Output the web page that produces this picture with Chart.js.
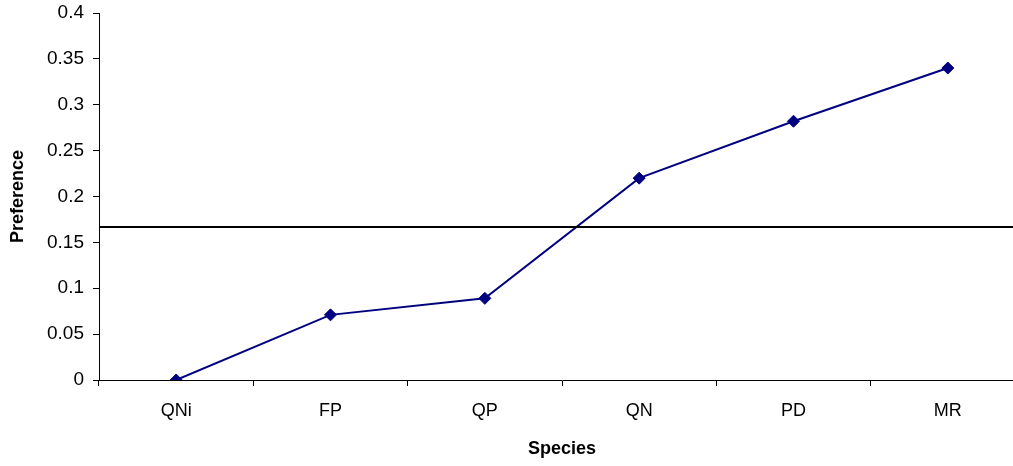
<!DOCTYPE html>
<html>
<head>
<meta charset="utf-8">
<script src="https://cdn.jsdelivr.net/npm/chart.js@4"></script>
<style>
html,body{margin:0;padding:0;background:#fff;overflow:hidden;}
#wrap{position:relative;width:1033px;height:466px;}
</style>
</head>
<body>
<div id="wrap"><canvas id="c" width="1033" height="466"></canvas></div>
<script>
const categories = ['QNi', 'FP', 'QP', 'QN', 'PD', 'MR'];
const preference = [0, 0.071, 0.089, 0.22, 0.282, 0.34];
const referenceLevel = [1 / 6];
const yTickValues = [0, 0.05, 0.1, 0.15, 0.2, 0.25, 0.3, 0.35, 0.4];
const xTitle = 'Species';
const yTitle = 'Preference';

const refLinePlugin = {
  id: 'refLine',
  afterDatasetsDraw(chart) {
    const {ctx, chartArea, scales} = chart;
    referenceLevel.forEach(v => {
      const y = scales.y.getPixelForValue(v);
      ctx.save();
      ctx.strokeStyle = '#000';
      ctx.lineWidth = 2;
      ctx.beginPath();
      ctx.moveTo(chartArea.left, y);
      ctx.lineTo(chartArea.right, y);
      ctx.stroke();
      ctx.restore();
    });
  }
};

const FONT = 'Liberation Sans, Arial, sans-serif';

new Chart(document.getElementById('c'), {
  type: 'line',
  data: {
    labels: categories,
    datasets: [{
      data: preference,
      borderColor: '#000080',
      backgroundColor: '#000080',
      borderWidth: 2,
      pointStyle: 'rectRot',
      pointRadius: 6,
      pointHoverRadius: 6,
      pointBorderWidth: 1,
      tension: 0,
      fill: false
    }]
  },
  options: {
    responsive: false,
    animation: false,
    layout: {padding: {top: 13, right: 8, bottom: 0, left: 0}},
    plugins: {legend: {display: false}, tooltip: {enabled: false}},
    scales: {
      x: {
        type: 'category',
        offset: true,
        grid: {offset: true, drawOnChartArea: false, drawTicks: true, tickLength: 6, color: '#000', lineWidth: 1},
        border: {display: true, color: '#000', width: 1},
        ticks: {color: '#000', font: {family: FONT, size: 18}, padding: 14, maxRotation: 0},
        title: {display: true, text: xTitle, color: '#000', font: {family: FONT, size: 18, weight: 'bold'}, padding: {top: 0, bottom: 6}},
        afterFit(s) { s.height = 86; s.paddingLeft = 0; s.paddingRight = 0; }
      },
      y: {
        min: 0, max: 0.4,
        afterBuildTicks(s) { s.ticks = yTickValues.map(v => ({value: v})); },
        grid: {drawOnChartArea: false, drawTicks: true, tickLength: 6, color: '#000', lineWidth: 1},
        border: {display: true, color: '#000', width: 1},
        ticks: {color: '#000', font: {family: FONT, size: 19}, padding: 9,
          callback: v => String(Number(v.toFixed(2)))},
        title: {display: true, text: yTitle, color: '#000', font: {family: FONT, size: 18, weight: 'bold'}, padding: {top: 7, bottom: 0}},
        afterFit(s) { s.width = 99; s.paddingTop = 0; s.paddingBottom = 0; }
      }
    }
  },
  plugins: [refLinePlugin]
});
</script>
</body>
</html>
